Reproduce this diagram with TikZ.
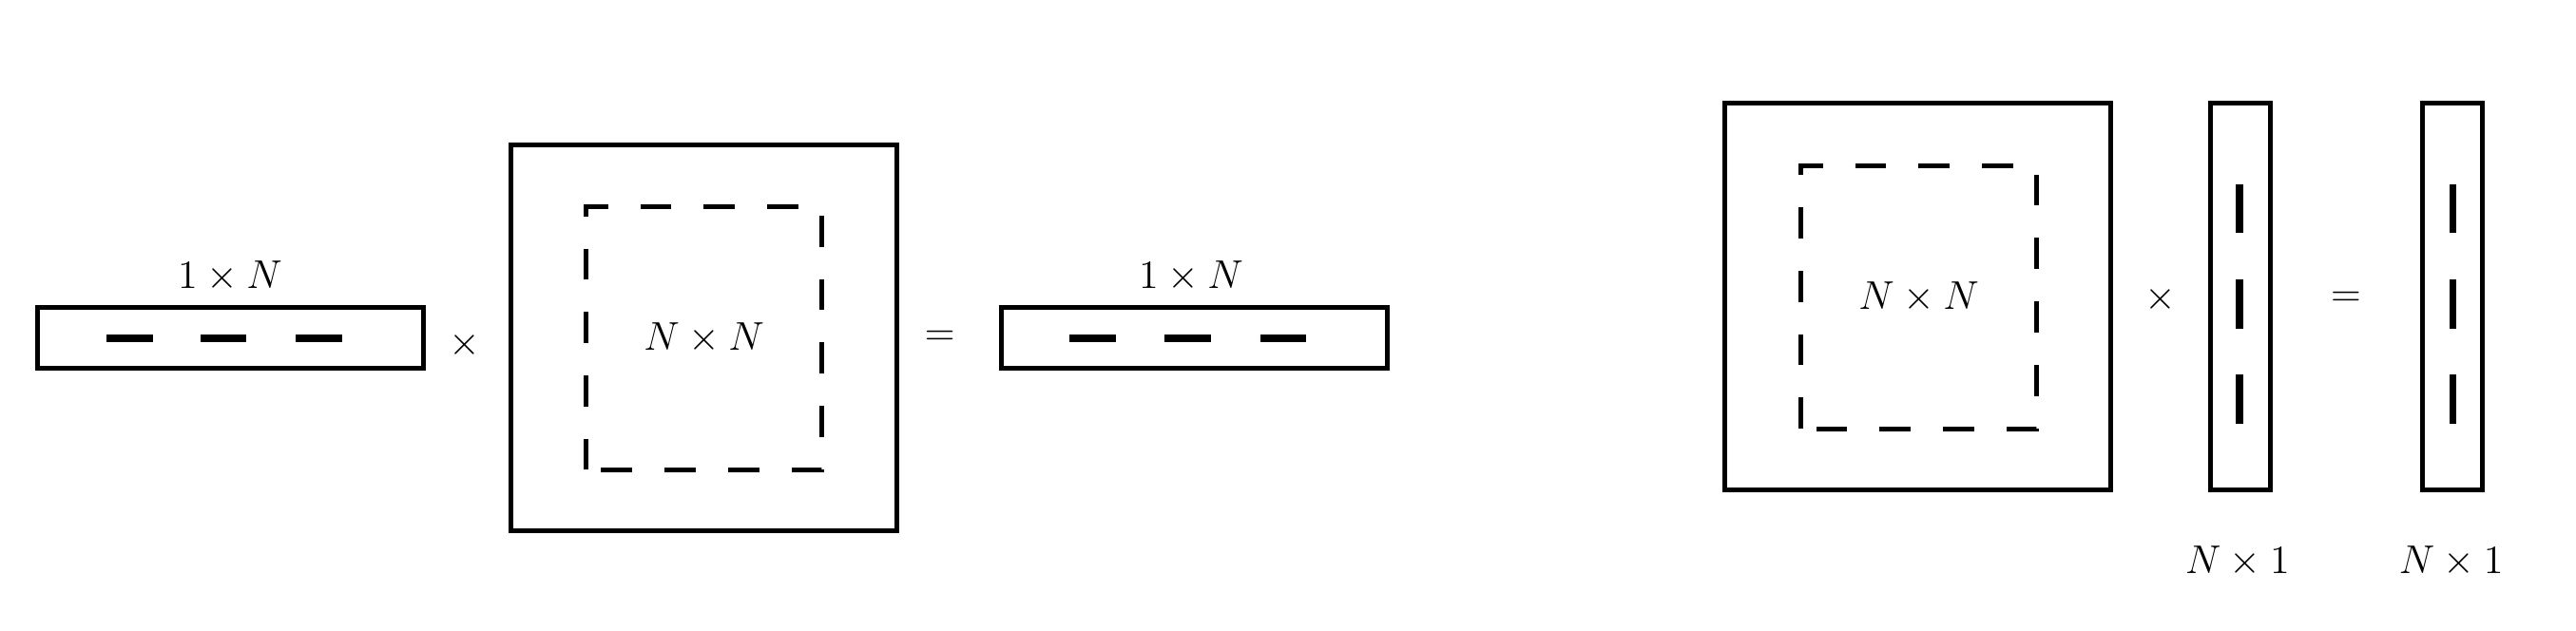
\documentclass[tikz,border=0pt]{standalone}
\usepackage{amsmath}
\usepackage{tikz}
\usetikzlibrary{positioning}

\begin{document}
\begin{tikzpicture}[
      caja/.style={rectangle, draw, line width=1.4pt, inner sep=0pt},
      bloque/.style={rectangle, inner sep=0pt, outer sep=0pt,
                     minimum width=2.48cm, minimum height=2.765cm,
                     font=\fontsize{11.5}{14}\selectfont},
      borde/.style={line width=1.4pt, dash pattern=on 0.327cm off 0.34cm},
      guion/.style={line width=2.2pt},
      signo/.style={font=\fontsize{11.5}{14}\selectfont},
      etiqueta/.style={font=\fontsize{11.5}{14}\selectfont}
    ]
    \useasboundingbox (0,0) rectangle (27.10,6.637);
    % vector fila por matriz
    \node[caja, minimum width=4.062cm, minimum height=0.639cm] (filaA) at (2.428,3.085) {};
    \node[etiqueta] (etqA) at (2.420,3.733) {$1\times N$};
    \foreach \x in {1.123,2.109,3.111}
      \draw[guion] (\x,3.076) -- ++(0.484,0);
    \node[signo] (porA) at (4.891,3.007) {$\times$};
    \node[caja, minimum size=4.062cm] (matA) at (7.406,3.085) {};
    \node[bloque] (subA) at (7.406,3.076) {$N\times N$};
    \draw[borde] (subA.south west) -- (subA.north west) -- (subA.north east) -- (subA.south east) -- cycle;
    \node[signo] (igualA) at (9.886,3.076) {$=$};
    \node[caja, minimum width=4.062cm, minimum height=0.639cm] (filaC) at (12.565,3.085) {};
    \node[etiqueta] (etqC) at (12.530,3.733) {$1\times N$};
    \foreach \x in {11.251,12.254,13.256}
      \draw[guion] (\x,3.076) -- ++(0.484,0);
    % matriz por vector columna
    \node[caja, minimum size=4.062cm] (matD) at (20.178,3.517) {};
    \node[bloque] (subD) at (20.187,3.508) {$N\times N$};
    \draw[borde] (subD.south west) -- (subD.north west) -- (subD.north east) -- (subD.south east) -- cycle;
    \node[signo] (porD) at (22.727,3.491) {$\times$};
    \node[caja, minimum width=0.63cm, minimum height=4.062cm] (colE) at (23.574,3.517) {};
    \node[signo] (igualD) at (24.680,3.491) {$=$};
    \node[caja, minimum width=0.63cm, minimum height=4.062cm] (colF) at (25.804,3.517) {};
    \foreach \y in {4.701,3.699,2.696} {
      \draw[guion] (23.557,\y) -- ++(0,-0.518);
      \draw[guion] (25.804,\y) -- ++(0,-0.518);
    }
    \node[etiqueta] (etqE) at (23.539,0.726) {$N\times 1$};
    \node[etiqueta] (etqF) at (25.786,0.726) {$N\times 1$};
  \end{tikzpicture}
\end{document}
